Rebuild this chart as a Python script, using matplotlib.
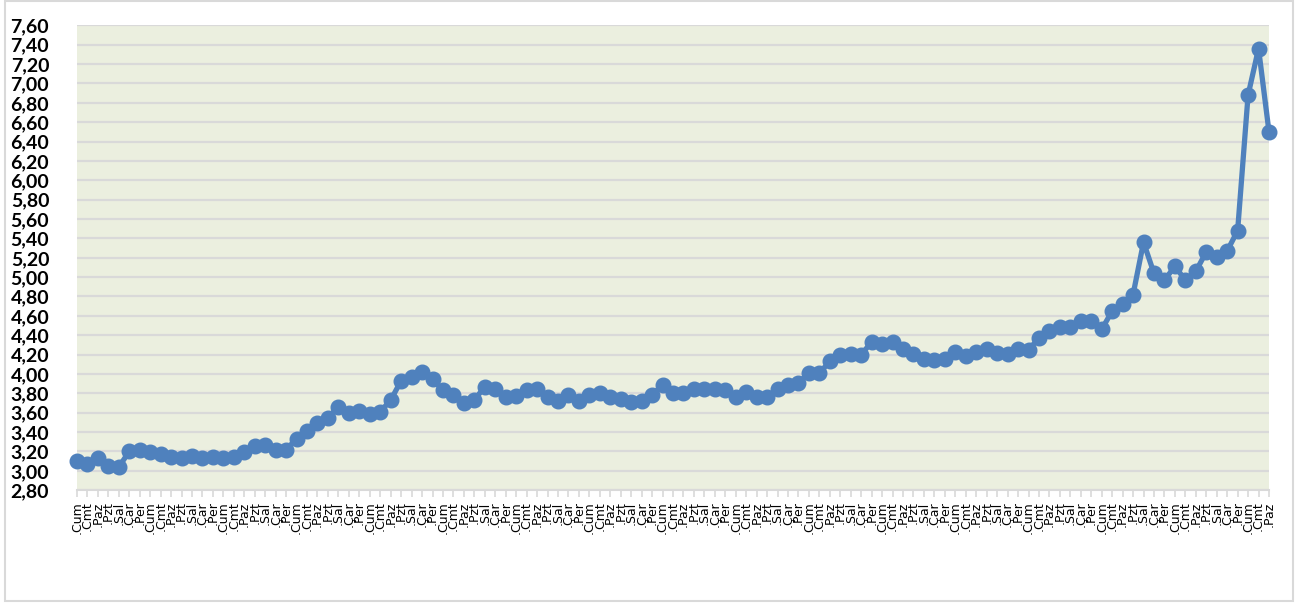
import matplotlib
matplotlib.use("Agg")
import matplotlib.pyplot as plt
from matplotlib.patches import Rectangle
from matplotlib.ticker import FuncFormatter, MultipleLocator

gunler = [".Cum", ".Cmt", ".Paz", ".Pzt", ".Sal", ".Çar", ".Per"]

degerler = [
    3.10, 3.07, 3.13, 3.05, 3.04, 3.20, 3.22, 3.19, 3.17, 3.14, 3.13, 3.15,
    3.13, 3.14, 3.13, 3.14, 3.19, 3.26, 3.27, 3.22, 3.22, 3.33,
    3.41, 3.49, 3.55, 3.66, 3.60, 3.62, 3.59, 3.61, 3.73, 3.93, 3.97, 4.02,
    3.95, 3.83, 3.78, 3.70, 3.73, 3.87, 3.85, 3.76, 3.77, 3.83,
    3.85, 3.76, 3.72, 3.78, 3.72, 3.78, 3.80, 3.76, 3.74, 3.71, 3.72, 3.78,
    3.89, 3.80, 3.80, 3.84, 3.85, 3.85, 3.83, 3.76, 3.81, 3.76,
    3.76, 3.84, 3.89, 3.91, 4.01, 4.01, 4.13, 4.20, 4.21, 4.20, 4.33, 4.31,
    4.33, 4.26, 4.21, 4.15, 4.14, 4.15, 4.23, 4.19, 4.23, 4.26, 4.22,
    4.21, 4.26, 4.25, 4.37, 4.44, 4.48, 4.48, 4.55, 4.55, 4.46, 4.65, 4.72,
    4.82, 5.36, 5.04, 4.97, 5.11, 4.97, 5.06, 5.26,
    5.21, 5.27, 5.48, 6.88, 7.36, 6.50,
]

etiketler = [gunler[i % 7] for i in range(len(degerler))]
x = list(range(len(degerler)))

fig = plt.figure(figsize=(12.97, 6.03), dpi=100)
fig.patches.append(Rectangle((5 / 1297, 2 / 603), 1288 / 1297, 600 / 603,
                             transform=fig.transFigure, fill=False,
                             edgecolor="#d9d9d9", linewidth=1.5))

ax = fig.add_axes([77 / 1297, 1 - 490.2 / 603, 1192 / 1297, 464.9 / 603])
ax.set_facecolor("#ebefdf")

ax.plot(x, degerler, color="#4f81bd", linewidth=3.8, marker="o",
        markersize=10.5, clip_on=False, zorder=3)

ax.set_xlim(0, len(degerler) - 1)
ax.set_ylim(2.8, 7.6)
ax.yaxis.set_major_locator(MultipleLocator(0.2))
ax.yaxis.set_major_formatter(FuncFormatter(lambda v, p: f"{v:.2f}".replace(".", ",")))
ax.grid(axis="y", color="#d9d9d9", linewidth=1.6)
ax.set_axisbelow(True)

ax.set_xticks(x)
ax.set_xticklabels(etiketler, rotation=90, fontsize=9, family="DejaVu Sans")

for s in ["top", "right", "left"]:
    ax.spines[s].set_visible(False)
ax.spines["bottom"].set_color("#d9d9d9")
ax.spines["bottom"].set_linewidth(1.5)

ax.tick_params(axis="y", length=0, pad=20, labelsize=14)
ax.tick_params(axis="x", length=5, color="#d9d9d9", width=1.2, pad=3)
for t in ax.get_yticklabels():
    t.set_fontweight("bold")
    t.set_family("Lato")

fig.savefig("out.png", dpi=100)
